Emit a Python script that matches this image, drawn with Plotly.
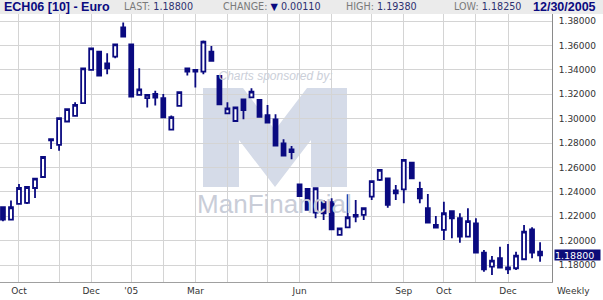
import pandas as pd
import plotly.graph_objects as go

# Weekly bars (Friday dates)
dates = pd.date_range("2004-09-17", periods=68, freq="7D")

opens = [1.2274, 1.2173, 1.2301, 1.2310, 1.2432, 1.2522, 1.2833, 1.2786, 1.2977, 1.3023,
         1.3127, 1.3400, 1.3549, 1.3454, 1.3508, 1.3748, 1.3609, 1.3195, 1.3168, 1.3203,
         1.3168, 1.2911, 1.3105, 1.3413, 1.3400, 1.3385, 1.3549, 1.3350, 1.3044, 1.2981,
         1.3159, 1.3175, 1.3153, 1.3030, 1.2995, 1.2798, 1.2727, 1.2461, 1.2424, 1.2230,
         1.2315, 1.2315, 1.2047, 1.2110, 1.2211, 1.2211, 1.2361, 1.2498, 1.2511, 1.2389,
         1.2421, 1.2639, 1.2424, 1.2266, 1.2129, 1.2088, 1.2243, 1.2184, 1.2033, 1.2142,
         1.1902, 1.1787, 1.1856, 1.1766, 1.1774, 1.1848, 1.2093, 1.1910]
highs = [1.2274, 1.2329, 1.2465, 1.2440, 1.2508, 1.2686, 1.2833, 1.3004, 1.3078, 1.3135,
         1.3413, 1.3577, 1.3557, 1.3536, 1.3609, 1.3789, 1.3609, 1.3413, 1.3195, 1.3228,
         1.3203, 1.3026, 1.3217, 1.3413, 1.3400, 1.3640, 1.3596, 1.3355, 1.3134, 1.3093,
         1.3159, 1.3249, 1.3153, 1.3113, 1.3036, 1.2831, 1.2776, 1.2461, 1.2430, 1.2430,
         1.2334, 1.2347, 1.2101, 1.2380, 1.2334, 1.2266, 1.2489, 1.2584, 1.2511, 1.2457,
         1.2662, 1.2639, 1.2484, 1.2383, 1.2202, 1.2320, 1.2250, 1.2225, 1.2266, 1.2184,
         1.1924, 1.1875, 1.1951, 1.1973, 1.1910, 1.2129, 1.2110, 1.1987]
lows = [1.2160, 1.2173, 1.2301, 1.2301, 1.2350, 1.2522, 1.2751, 1.2737, 1.2972, 1.3023,
        1.3127, 1.3400, 1.3353, 1.3364, 1.3495, 1.3672, 1.3181, 1.3195, 1.3092, 1.3108,
        1.3010, 1.2911, 1.3105, 1.3353, 1.3255, 1.3364, 1.3475, 1.3118, 1.3044, 1.2981,
        1.2995, 1.3175, 1.3016, 1.2967, 1.2779, 1.2697, 1.2667, 1.2366, 1.2252, 1.2184,
        1.2170, 1.2093, 1.2047, 1.2110, 1.2151, 1.2170, 1.2334, 1.2490, 1.2270, 1.2334,
        1.2307, 1.2511, 1.2307, 1.2148, 1.2101, 1.2006, 1.2020, 1.1984, 1.2030, 1.1902,
        1.1746, 1.1719, 1.1775, 1.1727, 1.1760, 1.1848, 1.1856, 1.1828]
closes = [1.2173, 1.2274, 1.2432, 1.2440, 1.2508, 1.2686, 1.2822, 1.3004, 1.3078, 1.3113,
          1.3413, 1.3577, 1.3353, 1.3413, 1.3609, 1.3672, 1.3181, 1.3241, 1.3195, 1.3173,
          1.3010, 1.3013, 1.3217, 1.3386, 1.3386, 1.3631, 1.3475, 1.3118, 1.3085, 1.3093,
          1.3071, 1.3221, 1.3016, 1.2967, 1.2779, 1.2697, 1.2749, 1.2366, 1.2252, 1.2430,
          1.2225, 1.2093, 1.2101, 1.2192, 1.2197, 1.2266, 1.2489, 1.2580, 1.2293, 1.2413,
          1.2662, 1.2511, 1.2348, 1.2148, 1.2107, 1.2225, 1.2184, 1.2033, 1.2161, 1.1902,
          1.1766, 1.1836, 1.1779, 1.1782, 1.1877, 1.2074, 1.1902, 1.1880]

# x-axis grid (first Friday of each month) and labels
tick_dates = ["2004-10-01", "2004-11-05", "2004-12-03", "2005-01-07", "2005-02-04",
              "2005-03-04", "2005-04-01", "2005-05-06", "2005-06-03", "2005-07-01",
              "2005-08-05", "2005-09-02", "2005-10-07", "2005-11-04", "2005-12-02"]
tick_text = ["Oct", "", "Dec", "'05", "", "Mar", "", "", "Jun", "", "", "Sep", "Oct", "", "Dec"]

y_ticks = [1.18, 1.20, 1.22, 1.24, 1.26, 1.28, 1.30, 1.32, 1.34, 1.36, 1.38]

last_price = 1.18800
header_title = "ECH06 [10] - Euro"
header_last = "1.18800"
header_change = "0.00110"
header_high = "1.19380"
header_low = "1.18250"
header_date = "12/30/2005"

NAVY = "#0a0a80"
GRID = "#d4d4d4"
FONT = "DejaVu Sans"

W, H = 603, 300
ML, MR, MT, MB = 0, 51, 14, 18
PW = W - ML - MR
PH = H - MT - MB

def px_x(px):
    return (px - ML) / PW

def px_y(py):
    return (H - MB - py) / PH

fig = go.Figure()

# watermark texts (under the candles)
fig.add_trace(go.Scatter(
    x=[pd.Timestamp("2005-05-12"), pd.Timestamp("2005-05-13")],
    y=[1.2283, 1.3338],
    mode="text",
    text=["ManFinancial", "<i>Charts sponsored by:</i>"],
    textfont=dict(family="Liberation Sans", size=[26, 12], color=["#c9cdd8", "#cbcfd9"]),
    hoverinfo="skip", showlegend=False,
))

fig.add_trace(go.Candlestick(
    x=dates, open=opens, high=highs, low=lows, close=closes,
    increasing=dict(line=dict(color=NAVY, width=1.8), fillcolor="white"),
    decreasing=dict(line=dict(color=NAVY, width=1.8), fillcolor=NAVY),
    whiskerwidth=0, showlegend=False, hoverinfo="skip",
))

shapes = []
# header bar
shapes.append(dict(type="rect", xref="paper", yref="paper",
                   x0=px_x(0), x1=px_x(W), y0=px_y(MT), y1=px_y(0),
                   fillcolor="#ebebeb", line=dict(width=0), layer="below"))
# logo "M"
pts = [(203, 187), (203, 88), (243, 88), (275, 130), (307, 88), (347, 88),
       (347, 187), (311, 187), (311, 140), (275, 187), (239, 140), (239, 187)]
path = "M " + " L ".join(f"{px_x(a):.5f},{px_y(b):.5f}" for a, b in pts) + " Z"
shapes.append(dict(type="path", xref="paper", yref="paper", path=path,
                   fillcolor="#d5dbe8", line=dict(width=0), layer="below"))

hy = px_y(7)
ann = []
def head(x, text, size=9.5, color="#7a7a7a", family=FONT):
    ann.append(dict(x=px_x(x), y=hy, xref="paper", yref="paper", xanchor="left",
                    yanchor="middle", showarrow=False, text=text,
                    font=dict(family=family, size=size, color=color)))

head(2, f"<b>{header_title}</b>", size=12.5, color=NAVY, family="Liberation Sans")
head(122, f"LAST: <span style='color:#2c3070'>{header_last}</span>", size=9.6)
head(221, f"CHANGE: <span style='color:{NAVY}'>▼</span> <span style='color:#2c3070'>{header_change}</span>", size=9.6)
head(344, f"HIGH: <span style='color:#2c3070'>{header_high}</span>", size=9.6)
head(452, f"LOW: <span style='color:#2c3070'>{header_low}</span>", size=9.6)
head(531, f"<b>{header_date}</b>", size=12.5, color=NAVY, family="Liberation Sans")

# last price marker on right axis
ann.append(dict(x=1, xref="paper", y=last_price, yref="y", xanchor="left", yanchor="middle",
                xshift=2, showarrow=False, text=f"{last_price:.5f}", width=45, height=10,
                align="left", bgcolor="#0c0c78", borderpad=0,
                font=dict(family=FONT, size=9.5, color="white")))
# period label
ann.append(dict(x=px_x(573), y=px_y(291), xref="paper", yref="paper", xanchor="center",
                yanchor="middle", showarrow=False, text="Weekly",
                font=dict(family=FONT, size=9, color="#333333")))

fig.update_layout(
    width=W, height=H, autosize=False,
    margin=dict(l=ML, r=MR, t=MT, b=MB, pad=0),
    paper_bgcolor="white", plot_bgcolor="white",
    shapes=shapes, annotations=ann,
    showlegend=False,
    xaxis=dict(
        type="date",
        range=["2004-09-14 10:00", "2006-01-09 10:00"],
        tickvals=tick_dates, ticktext=tick_text,
        showgrid=True, gridcolor=GRID, gridwidth=1,
        showline=True, linecolor="#a0a0a0", linewidth=1,
        ticks="", tickfont=dict(family=FONT, size=9, color="#333333"),
        rangeslider=dict(visible=False), zeroline=False, fixedrange=True,
    ),
    yaxis=dict(
        side="right",
        range=[1.16615, 1.3858],
        tickvals=y_ticks, tickformat=".5f",
        showgrid=True, gridcolor=GRID, gridwidth=1,
        showline=True, linecolor="#8a8a8a", linewidth=1,
        ticks="", ticklabelstandoff=4,
        tickfont=dict(family=FONT, size=9, color="#333333"),
        zeroline=False, fixedrange=True,
    ),
)

fig.write_html("out.html")
